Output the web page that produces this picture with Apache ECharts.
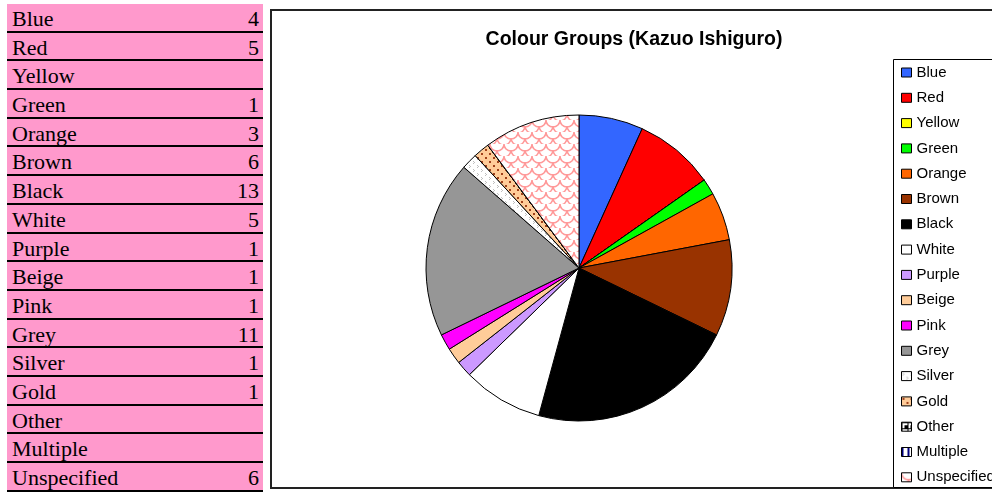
<!DOCTYPE html>
<html>
<head>
<meta charset="utf-8">
<title>Colour Groups (Kazuo Ishiguro)</title>
<script src="https://cdn.jsdelivr.net/npm/echarts@6/dist/echarts.min.js"></script>
<style>
  html, body { margin: 0; padding: 0; width: 992px; height: 492px; overflow: hidden; background: #fff; }
  #chart { position: absolute; left: 0; top: 0; width: 992px; height: 492px; }
  #table { position: absolute; left: 7px; top: 4px; width: 256px;
           font-family: "Liberation Serif", "Times New Roman", serif; font-size: 22px; color: #000; }
  .row { position: relative; height: 26.7px; line-height: 27px; background: #FF99CC;
         border-bottom: 2px solid #000; }
  .row .name { position: absolute; left: 5px; top: 1px; }
  .row .val { position: absolute; right: 4px; top: 1px; }
</style>
</head>
<body>
<div id="chart"></div>
<div id="table"></div>
<script>
// Colour categories and how many times each occurs
const categories = ['Blue', 'Red', 'Yellow', 'Green', 'Orange', 'Brown', 'Black', 'White', 'Purple',
                    'Beige', 'Pink', 'Grey', 'Silver', 'Gold', 'Other', 'Multiple', 'Unspecified'];
const counts = [4, 5, 0, 1, 3, 6, 13, 5, 1, 1, 1, 11, 1, 1, 0, 0, 6];
const chartTitle = 'Colour Groups (Kazuo Ishiguro)';

// Repeating tile fills for the textured slices
function tile(w, h, bg, draw) {
  const c = document.createElement('canvas');
  c.width = w; c.height = h;
  const g = c.getContext('2d');
  g.fillStyle = bg; g.fillRect(0, 0, w, h);
  draw(g);
  return { image: c, repeat: 'repeat' };
}
const silverFill = tile(8, 8, '#FFFFFF', g => {
  g.fillStyle = '#BFBFBF';
  [[1, 1], [2, 2], [1, 3], [5, 5], [6, 6], [5, 7]].forEach(p => g.fillRect(p[0], p[1], 1, 1));
});
const goldFill = tile(8, 8, '#FFCC99', g => {
  g.fillStyle = '#A0401A';
  g.fillRect(1, 1, 2, 2);
  g.fillRect(5, 5, 2, 2);
});
const otherFill = tile(6, 6, '#FFFFFF', g => {
  g.fillStyle = '#000000';
  g.fillRect(3, 3, 3, 3);
  g.fillRect(0, 0, 1, 6);
  g.fillRect(0, 0, 6, 1);
});
const multipleFill = tile(6, 6, '#FFFFFF', g => {
  g.fillStyle = '#000080';
  g.fillRect(0, 0, 2, 6);
});
const unspecifiedFill = tile(14, 12, '#FFFFFF', g => {
  g.strokeStyle = '#FF9999';
  g.lineWidth = 1.5;
  g.beginPath(); g.arc(7, 0, 7, 0, Math.PI); g.stroke();
  g.beginPath(); g.arc(0, 6, 7, 0, Math.PI); g.stroke();
  g.beginPath(); g.arc(14, 6, 7, 0, Math.PI); g.stroke();
  g.beginPath(); g.arc(7, 12, 7, 0, Math.PI); g.stroke();
});

const sliceFills = ['#3366FF', '#FF0000', '#FFFF00', '#00FF00', '#FF6600', '#993300', '#000000',
                    '#FFFFFF', '#CC99FF', '#FFCC99', '#FF00FF', '#969696', silverFill, goldFill,
                    otherFill, multipleFill, unspecifiedFill];

// Spreadsheet-style table beside the chart
const table = document.getElementById('table');
categories.forEach((name, i) => {
  const row = document.createElement('div');
  row.className = 'row';
  const n = document.createElement('span');
  n.className = 'name'; n.textContent = name;
  const v = document.createElement('span');
  v.className = 'val'; v.textContent = counts[i] ? String(counts[i]) : '';
  row.appendChild(n); row.appendChild(v);
  table.appendChild(row);
});

const chart = echarts.init(document.getElementById('chart'), null, { renderer: 'canvas' });
chart.setOption({
  animation: false,
  graphic: [
    { type: 'rect', silent: true, z: 0,
      shape: { x: 271, y: 10, width: 760, height: 478 },
      style: { fill: 'none', stroke: '#222', lineWidth: 2 } },
    { type: 'rect', silent: true, z: 0,
      shape: { x: 893.5, y: 59.5, width: 200, height: 428 },
      style: { fill: '#FFFFFF', stroke: '#000', lineWidth: 1 } },
    { type: 'text', silent: true, x: 634, y: 40,
      style: { text: chartTitle, font: 'bold 19.5px "Liberation Sans", Arial, sans-serif',
               fill: '#000', textAlign: 'center', textVerticalAlign: 'middle' } }
  ],
  legend: {
    orient: 'vertical',
    left: 901, top: 64.5,
    height: 440,
    padding: 0,
    itemWidth: 10, itemHeight: 9, itemGap: 9.3,
    icon: 'rect',
    selectedMode: false,
    data: categories,
    itemStyle: { borderColor: '#000', borderWidth: 1 },
    textStyle: { fontFamily: '"Liberation Sans", Arial, sans-serif', fontSize: 15,
                 color: '#000', lineHeight: 16 }
  },
  series: [{
    type: 'pie',
    center: [579, 268],
    radius: 153,
    startAngle: 90,
    clockwise: true,
    label: { show: false },
    labelLine: { show: false },
    emphasis: { disabled: true },
    itemStyle: { borderColor: '#000', borderWidth: 1 },
    data: categories.map((name, i) => ({ name: name, value: counts[i], itemStyle: { color: sliceFills[i] } }))
  }]
});
</script>
</body>
</html>
